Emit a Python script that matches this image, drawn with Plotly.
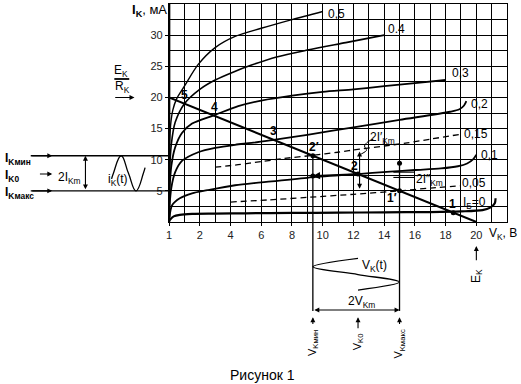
import plotly.graph_objects as go

# ---------------- figure / box geometry ----------------
W, H = 521, 384
BOX_L, BOX_R, BOX_T, BOX_B = 167, 507, 4, 222   # pixel edges of the grid box
X_MAX, Y_MAX = 22, 35

# ---------------- tick labels ----------------
x_tick_vals = [0, 2, 4, 6, 8, 10, 12, 14, 16, 18, 20]
x_tick_text = ["1", "2", "4", "6", "8", "10", "12", "14", "16", "18", "20"]
y_tick_vals = [5, 10, 15, 20, 25, 30]
y_tick_text = ["5", "10", "15", "20", "25", "30"]

# ---------------- collector characteristics (V_K in V, I_K in mA) ----------------
ib_05_v = [0.03, 0.1, 0.25, 0.5, 1.0, 1.9, 3, 4.3, 6, 8, 10]
ib_05_i = [12, 15.5, 18, 19.8, 21.8, 25.3, 28, 29.8, 31.1, 32.5, 33.8]

ib_04_v = [0.03, 0.15, 0.4, 1.0, 2, 3, 4.2, 5.37, 7, 9, 11.5, 14]
ib_04_i = [8, 12.5, 16, 19, 21.3, 22.8, 24.1, 25.2, 26.5, 27.6, 28.8, 30]

ib_03_v = [0.03, 0.15, 0.4, 0.84, 1.5, 3, 4.5, 6, 8, 10, 12, 14, 16, 18]
ib_03_i = [5, 9, 12, 14.3, 15.8, 17.2, 18.6, 19.5, 20.3, 20.9, 21.3, 21.8, 22.3, 22.8]

ib_02_v = [0.03, 0.15, 0.4, 0.84, 1.9, 3, 4.3, 5.37, 6.8, 9, 12, 15, 18.3, 18.9, 19.2, 19.35]
ib_02_i = [2.5, 5.5, 8, 9.8, 11.2, 11.9, 12.4, 12.7, 13.2, 14.0, 15.2, 16.4, 17.7, 18.1, 18.7, 19.4]

ib_015_v = [3, 4.5, 6, 7.5, 9.36, 11, 12.4, 14, 15.5, 17, 19]
ib_015_i = [8.8, 9.2, 9.7, 10.2, 10.7, 11.2, 11.7, 12.2, 12.7, 13.3, 14.1]

ib_01_v = [0.03, 0.2, 0.7, 1.5, 2.5, 4.3, 6, 9, 12.3, 14.4, 16, 17.7, 18.8, 19.4, 19.8, 20.0]
ib_01_i = [0.8, 2.7, 3.8, 4.6, 5.1, 5.9, 6.35, 7.1, 7.7, 8.1, 8.35, 8.6, 8.95, 9.4, 10.1, 10.8]

ib_005_v = [4, 6.5, 9, 12, 15, 17, 19]
ib_005_i = [3.2, 3.55, 3.95, 4.45, 5.0, 5.45, 5.8]

ib_0_v = [0.03, 0.3, 0.7, 1.5, 3, 5, 8, 11, 14, 17, 19, 20.4, 20.9, 21.2, 21.25]
ib_0_i = [0.3, 0.9, 1.15, 1.3, 1.35, 1.4, 1.45, 1.5, 1.55, 1.6, 1.7, 1.9, 2.3, 3.0, 3.8]

# ---------------- load line & operating points ----------------
E_K = 20.0          # V
E_K_over_R_K = 20.0 # mA
op_names = ["5", "4", "3", "2′", "2", "1′", "1"]
op_vk = [1.0, 3.0, 6.7, 9.36, 12.3, 15.0, 18.5]
op_label_shift = [(0, 9), (-1, 9), (2, 8), (1, 9), (-4, 8), (-8, -7), (-1, 9)]

V_K_min, V_K0, V_K_max = 9.36, 12.3, 15.0


def load_i(v):
    return E_K_over_R_K * (1 - v / E_K)


I_K_min = load_i(V_K_min)
I_K0 = load_i(V_K0)
I_K_max = load_i(V_K_max)

# ---------------- axes ranges for an overlay covering the full figure ----------------
kx = (BOX_R - BOX_L) / X_MAX
ky = (BOX_B - BOX_T) / Y_MAX
x2_range = [-BOX_L / kx, X_MAX + (W - BOX_R) / kx]
y2_range = [-(H - BOX_B) / ky, Y_MAX + BOX_T / ky]

FONT = "Liberation Sans, Arial, sans-serif"
fig = go.Figure()

BLK = "black"


def curve(xv, yv, dash="solid", width=1.6, axis=1, shape="spline", smooth=0.8):
    fig.add_trace(go.Scatter(
        x=xv, y=yv, mode="lines",
        line=dict(color=BLK, width=width, dash=dash, shape=shape, smoothing=smooth),
        xaxis="x" if axis == 1 else "x2", yaxis="y" if axis == 1 else "y2",
        hoverinfo="skip"))


# characteristics
curve(ib_05_v, ib_05_i, width=1.4)
curve(ib_04_v, ib_04_i)
curve(ib_03_v, ib_03_i, width=1.8)
curve(ib_02_v, ib_02_i, width=1.8)
curve(ib_015_v, ib_015_i, dash="6px,4px", width=1.3)
curve(ib_01_v, ib_01_i, width=1.8)
curve(ib_005_v, ib_005_i, dash="6px,4px", width=1.3)
curve(ib_0_v, ib_0_i, width=2.2)

# thick left axis
fig.add_trace(go.Scatter(x=[0, 0], y=[0, Y_MAX], mode="lines",
                         line=dict(color=BLK, width=2.6), hoverinfo="skip"))

# load line
fig.add_trace(go.Scatter(x=[0, E_K], y=[E_K_over_R_K, 0], mode="lines",
                         line=dict(color=BLK, width=2.0), hoverinfo="skip"))

# operating point dots
dot_idx = [3, 4, 5, 6]
fig.add_trace(go.Scatter(x=[op_vk[i] for i in dot_idx],
                         y=[load_i(op_vk[i]) for i in dot_idx],
                         mode="markers", marker=dict(color=BLK, size=5),
                         hoverinfo="skip"))

# ---------------- construction (overlay axis) ----------------
Y_2VKM = -14.13
curve([V_K_min, V_K_min], [I_K_min, Y_2VKM - 0.15], width=1.3, axis=2, shape="linear")
curve([V_K_max, V_K_max], [9.45, Y_2VKM - 0.15], width=1.3, axis=2, shape="linear")
fig.add_trace(go.Scatter(x=[V_K_max, V_K_min], y=[9.45, I_K0 - 0.3], mode="markers",
                         marker=dict(color=BLK, size=5), xaxis="x2", yaxis="y2",
                         hoverinfo="skip"))
# 2I''_Km bracket marks
curve([14.6, 16.0], [8.0, 8.0], width=1.1, axis=2, shape="linear")
curve([14.6, 16.0], [7.15, 7.15], width=1.1, axis=2, shape="linear")
# brace for 2I'_Km
curve([12.5, 12.85, 12.72, 12.95, 13.3], [10.9, 11.5, 12.2, 12.9, 13.3], width=1.0, axis=2)

# left side levels
LEFT_X0 = -9.0
curve([LEFT_X0, 0], [I_K_min, I_K_min], width=1.3, axis=2, shape="linear")
curve([LEFT_X0, 0], [I_K_max, I_K_max], width=1.3, axis=2, shape="linear")
# fraction bar E_K / R_K
curve([-3.56, -2.59], [22.96, 22.96], width=1.8, axis=2, shape="linear")

# i_K(t) wave (key points: centre, peak, centre, trough, centre)
ic = (I_K_min + I_K_max) / 2
wave_x = [-3.74, -3.62, -3.12, -2.64, -2.15, -1.67, -1.56]
wave_y = [ic - 0.9, ic, I_K_min, ic, I_K_max, ic, ic + 0.9]
curve(wave_x, wave_y, width=1.3, axis=2, smooth=1.3)

# V_K(t) wave (time runs downward)
vc = V_K0
vk_wave_x = [vc, V_K_min, vc, V_K_max, vc]
vk_wave_y = [-5.83, -7.19, -8.44, -9.63, -10.92]
curve(vk_wave_x, vk_wave_y, width=1.3, axis=2, smooth=1.0)

# ---------------- annotations ----------------
ann = []


def text(t, x, y, size=12, anchor="center", angle=0, bold=False, xs=0, ys=0, ref=2):
    ann.append(dict(text=("<b>%s</b>" % t) if bold else t, x=x, y=y,
                    xref="x2" if ref == 2 else "x", yref="y2" if ref == 2 else "y",
                    showarrow=False, xanchor=anchor, yanchor="middle",
                    textangle=angle, xshift=xs, yshift=ys,
                    font=dict(family=FONT, size=size, color=BLK)))


def arrow(x, y, ax, ay, both=False, width=1.1):
    ann.append(dict(text="", x=x, y=y, ax=ax, ay=ay, xref="x2", yref="y2",
                    axref="x2", ayref="y2", showarrow=True, arrowhead=2,
                    arrowsize=0.9, arrowwidth=width, arrowcolor=BLK,
                    arrowside="end+start" if both else "end", standoff=0,
                    startstandoff=0))


# curve labels
text("0,5", 10.2, 33.4, anchor="left")
text("0.4", 14.1, 31.0, anchor="left")
text("0,3", 18.3, 23.9, anchor="left")
text("0,2", 19.5, 18.9, anchor="left")
text("0,15", 19.05, 14.1, anchor="left")
text("0,1", 20.2, 10.75, anchor="left")
text("0,05", 18.95, 6.26, anchor="left")
text("I<sub>Б</sub>=0", 19.0, 3.0, anchor="left")

# operating point labels
for n, v, (dx, dy) in zip(op_names, op_vk, op_label_shift):
    text(n, v, load_i(v), size=12, bold=True, xs=dx, ys=dy)

# axis titles
text("<b>I</b><sub><b>K</b></sub>, мА", -1.25, 34.0, size=13)
text("V<sub>K</sub>, В", 21.75, -1.95, size=12)

# E_K / R_K
text("E<sub>K</sub>", -3.1, 24.2, size=12)
text("R<sub>K</sub>", -3.05, 21.6, size=12)
arrow(-2.25, E_K_over_R_K, -3.6, E_K_over_R_K)

# left construction
text("I<sub>Kмин</sub>", x2_range[0], I_K_min - 0.45, size=12, anchor="left", bold=True)
text("I<sub>K0</sub>", x2_range[0], I_K0 - 0.35, size=12, anchor="left", bold=True)
text("I<sub>Kмакс</sub>", x2_range[0], I_K_max - 0.4, size=12, anchor="left", bold=True)
arrow(-7.6, I_K_min, LEFT_X0, I_K_min)
arrow(-7.6, I_K0, -8.5, I_K0)
arrow(-7.6, I_K_max, LEFT_X0, I_K_max)
arrow(-5.44, I_K_min, -5.44, I_K_max, both=True)
text("2I<sub>Km</sub>", -6.45, I_K0 - 0.6, size=12)
text("i<sub>K</sub>(t)", -3.35, I_K0 - 0.9, size=12)

# inside-grid construction
arrow(V_K_min, I_K0 - 0.3, V_K0, I_K0, width=1.6)
arrow(12.4, 11.3, 12.4, 5.1, both=True)
text("2I′<sub>Km</sub>", 13.9, 13.45, size=12)
text("2I″<sub>Km</sub>", 16.95, 6.7, size=12)

# bottom construction
arrow(V_K_max, Y_2VKM, V_K_min, Y_2VKM, both=True)
text("2V<sub>Km</sub>", 12.5, -12.85, size=12)
text("V<sub>K</sub>(t)", 13.35, -7.05, size=12)
for vx, ay in [(V_K_min, -16.6), (V_K0, -17.3), (V_K_max, -16.6)]:
    arrow(vx, -15.3, vx, ay)
text("V<sub>Kмин</sub>", V_K_min, -19.45, size=11, angle=-90)
text("V<sub>K0</sub>", V_K0, -19.3, size=11, angle=-90)
text("V<sub>Kмакс</sub>", V_K_max, -19.6, size=11, angle=-90)
arrow(E_K, -3.85, E_K, -6.4)
text("E<sub>K</sub>", E_K, -8.6, size=12, angle=-90)

text("Рисунок 1", 6.1, -24.55, size=14)

# ---------------- layout ----------------
grid = dict(showgrid=True, gridcolor=BLK, gridwidth=1)
fig.update_layout(
    width=W, height=H, margin=dict(l=0, r=0, t=0, b=0),
    paper_bgcolor="white", plot_bgcolor="rgba(0,0,0,0)", showlegend=False,
    font=dict(family=FONT, size=11, color=BLK),
    xaxis=dict(domain=[BOX_L / W, BOX_R / W], range=[0, X_MAX],
               tickvals=x_tick_vals, ticktext=x_tick_text,
               ticks="outside", ticklen=3, tickcolor=BLK,
               tickfont=dict(family=FONT, size=11, color="#222"),
               minor=dict(tick0=0, dtick=1, showgrid=True, gridcolor=BLK, gridwidth=1, ticks=""),
               showline=True, mirror=True, linecolor=BLK, linewidth=1.3,
               zeroline=False, fixedrange=True, anchor="y", **grid),
    yaxis=dict(domain=[(H - BOX_B) / H, (H - BOX_T) / H], range=[0, Y_MAX],
               tickvals=y_tick_vals, ticktext=y_tick_text,
               ticks="outside", ticklen=3, tickcolor=BLK,
               tickfont=dict(family=FONT, size=11, color="#222"),
               minor=dict(tick0=0, dtick=2.5, showgrid=True, gridcolor=BLK, gridwidth=1, ticks=""),
               showline=True, mirror=True, linecolor=BLK, linewidth=1.3,
               zeroline=False, fixedrange=True, anchor="x", **grid),
    xaxis2=dict(domain=[0, 1], range=x2_range, visible=False, anchor="y2", fixedrange=True),
    yaxis2=dict(domain=[0, 1], range=y2_range, visible=False, anchor="x2", fixedrange=True),
    annotations=ann,
)

fig.write_html("out.html", config={"displayModeBar": False},
               post_script="document.body.style.margin='0';document.body.style.overflow='hidden';")
